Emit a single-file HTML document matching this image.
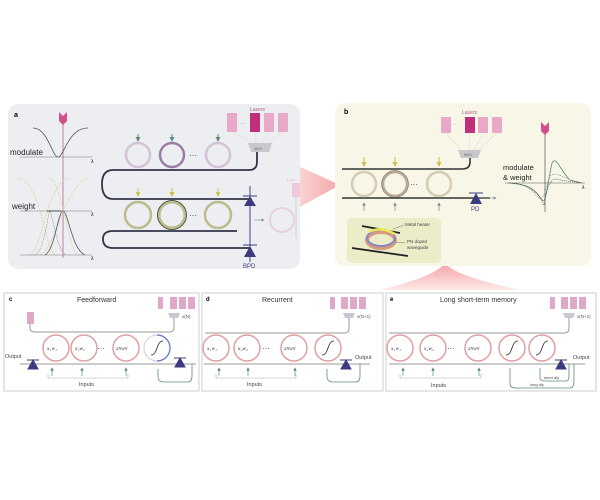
<!DOCTYPE html>
<html><head><meta charset="utf-8"><style>
body{margin:0;background:#fff;}
svg{display:block;font-family:"Liberation Sans",sans-serif;}
</style></head><body>
<svg width="600" height="500" viewBox="0 0 600 500" xmlns="http://www.w3.org/2000/svg">
<defs>
<linearGradient id="pk" x1="0" x2="1"><stop offset="0" stop-color="#fbe3e3"/><stop offset="1" stop-color="#f4a6a8"/></linearGradient>
<linearGradient id="pk2" x1="0" y1="0" x2="0" y2="1"><stop offset="0" stop-color="#f4a0a4"/><stop offset="1" stop-color="#fde8e8"/></linearGradient>
<marker id="ag" markerWidth="5" markerHeight="5" refX="4" refY="2.5" orient="auto"><path d="M0,0L5,2.5L0,5z" fill="#5c8a82"/></marker>
<marker id="ay" markerWidth="5" markerHeight="5" refX="4" refY="2.5" orient="auto"><path d="M0,0L5,2.5L0,5z" fill="#c9c24a"/></marker>
<marker id="agr" markerWidth="5" markerHeight="5" refX="4" refY="2.5" orient="auto"><path d="M0,0L5,2.5L0,5z" fill="#7a8a90"/></marker>
</defs>

<!-- pink connector arrows -->
<path d="M285,160 L340,185 L285,215 Z" fill="url(#pk)"/>
<path d="M380,290 Q440,275 445,262 Q450,275 520,290 Z" fill="url(#pk2)"/>

<!-- Panel a -->
<rect x="8" y="104" width="292" height="165" rx="10" fill="#eceef1"/>
<text x="14" y="117" font-size="7" font-weight="bold">a</text>
<line x1="63" y1="118" x2="63" y2="258" stroke="#d4799f" stroke-width="1"/>
<path d="M59,112 L63,116 L67,112 L67,121 L63,125 L59,121Z" fill="#d4508a"/>
<path d="M33,128 C48,128 52,157 58,157 C64,157 68,128 88,128" fill="none" stroke="#555" stroke-width="0.8"/>
<line x1="20" y1="157" x2="92" y2="157" stroke="#777" stroke-width="0.6"/>
<text x="91" y="163" font-size="5">λ</text>
<text x="10" y="155" font-size="8" fill="#222">modulate</text>
<path d="M18,178 C40,178 45,250 55,255 M30,255 C42,250 48,178 70,178 M48,178 C62,178 68,252 78,255 M40,255 C55,250 62,190 88,178" fill="none" stroke="#d9d6a8" stroke-width="0.8" stroke-dasharray="2,1"/>
<path d="M45,255 C55,250 58,211 63,211 C68,211 72,250 85,255" fill="none" stroke="#555" stroke-width="0.8"/>
<path d="M35,255 C45,250 48,211 50,211 C52,211 56,250 66,255" fill="none" stroke="#8a8a8a" stroke-width="0.6" stroke-dasharray="1.5,1"/>
<line x1="20" y1="211" x2="92" y2="211" stroke="#777" stroke-width="0.6"/>
<line x1="20" y1="255" x2="92" y2="255" stroke="#777" stroke-width="0.6"/>
<line x1="47" y1="211" x2="61" y2="211" stroke="#333" stroke-width="0.8"/>
<text x="91" y="216" font-size="5">λ</text><text x="91" y="260" font-size="5">λ</text>
<text x="12" y="209" font-size="8" fill="#222">weight</text>

<!-- lasers a -->
<text x="250" y="111" font-size="5" fill="#b06080">Lasers</text>
<rect x="227" y="113" width="10" height="19" fill="#e8a8c8"/>
<text x="240" y="125" font-size="6" fill="#888">···</text>
<rect x="250" y="113" width="10" height="19" fill="#c0307a"/>
<rect x="264" y="113" width="10" height="19" fill="#e8a8c8"/>
<rect x="278" y="113" width="10" height="19" fill="#e8a8c8"/>
<path d="M232,132 L252,143 M255,132 L256,143 M269,132 L262,143 M283,132 L268,143" stroke="#ddd" stroke-width="0.6"/>
<path d="M248,143 L272,143 L269,152 L251,152Z" fill="#c8c8cc"/>
<text x="254" y="150" font-size="3.5" fill="#666">MUX</text>
<!-- waveguides a -->
<path d="M257,152 L257,162 Q257,170 249,170 L113,170 Q102,170 102,184 Q102,199 113,199 L250,199" fill="none" stroke="#333348" stroke-width="1.8"/>
<path d="M237,231 L113,231 Q103,231 103,239 Q103,248 113,248 L250,248" fill="none" stroke="#333348" stroke-width="1.8"/>
<!-- rings row1 -->
<circle cx="138" cy="155" r="12" fill="none" stroke="#d2c3d6" stroke-width="2.5"/>
<circle cx="172" cy="155" r="12" fill="none" stroke="#9a7fa2" stroke-width="2.5"/>
<circle cx="218" cy="155" r="12" fill="none" stroke="#d2c3d6" stroke-width="2.5"/>
<text x="189" y="158" font-size="8" fill="#333">···</text>
<line x1="138" y1="134" x2="138" y2="141" stroke="#5c8a82" marker-end="url(#ag)"/>
<line x1="172" y1="134" x2="172" y2="141" stroke="#5c8a82" marker-end="url(#ag)"/>
<line x1="218" y1="134" x2="218" y2="141" stroke="#5c8a82" marker-end="url(#ag)"/>
<!-- rings row2 -->
<circle cx="138" cy="215" r="13" fill="none" stroke="#bcbb8a" stroke-width="2.5"/>
<circle cx="172" cy="215" r="13" fill="none" stroke="#bcbb8a" stroke-width="3"/>
<circle cx="172" cy="215" r="14.5" fill="none" stroke="#333" stroke-width="0.8"/>
<circle cx="218" cy="215" r="13" fill="none" stroke="#bcbb8a" stroke-width="2.5"/>
<text x="189" y="218" font-size="8" fill="#333">···</text>
<line x1="138" y1="188" x2="138" y2="196" stroke="#c9c24a" marker-end="url(#ay)"/>
<line x1="172" y1="188" x2="172" y2="196" stroke="#c9c24a" marker-end="url(#ay)"/>
<line x1="218" y1="188" x2="218" y2="196" stroke="#c9c24a" marker-end="url(#ay)"/>
<!-- BPD -->
<line x1="250" y1="186" x2="250" y2="262" stroke="#4a3f8a" stroke-width="1"/>
<path d="M244,206 L256,206 L250,196Z" fill="#3e3a82"/><line x1="243" y1="196" x2="257" y2="196" stroke="#3e3a82"/>
<path d="M244,161 M244,257 L256,257 L250,246Z" fill="#3e3a82"/><line x1="243" y1="245" x2="257" y2="245" stroke="#3e3a82"/>
<text x="243" y="268" font-size="6" fill="#3e3a82">BPD</text>
<line x1="254" y1="220" x2="264" y2="220" stroke="#7a8a90" stroke-width="0.6" marker-end="url(#agr)"/>
<circle cx="282" cy="220" r="12" fill="none" stroke="#e6d2dc" stroke-width="2"/>
<rect x="292" y="183" width="8" height="14" fill="#efc8da"/>
<text x="287" y="181" font-size="4" fill="#e4b8cc">Lase</text>
<path d="M296,197 L296,238" stroke="#d8c4cc" stroke-width="0.8"/>

<!-- Panel b -->
<rect x="335" y="103" width="256" height="163" rx="10" fill="#f8f6e6"/>
<text x="344" y="114" font-size="7" font-weight="bold">b</text>
<text x="462" y="114" font-size="5" fill="#b06080">Lasers</text>
<rect x="441" y="117" width="10" height="16" fill="#e8a8c8"/>
<text x="453" y="126" font-size="5" fill="#888">···</text>
<rect x="465" y="117" width="10" height="16" fill="#c0307a"/>
<rect x="478" y="117" width="10" height="16" fill="#e8a8c8"/>
<rect x="492" y="117" width="10" height="16" fill="#e8a8c8"/>
<path d="M446,133 L461,150 M470,133 L469,150 M483,133 L474,150 M497,133 L478,150" stroke="#ddd" stroke-width="0.6"/>
<path d="M458,150 L481,150 L478,158 L461,158Z" fill="#c8c8cc"/>
<text x="464" y="156" font-size="3.5" fill="#666">MUX</text>
<path d="M342,169 L462,169 Q470,169 470,162 L470,158" fill="none" stroke="#333" stroke-width="1.6"/>
<line x1="342" y1="198" x2="490" y2="198" stroke="#333" stroke-width="1.6"/>
<line x1="478" y1="198" x2="496" y2="198" stroke="#7a8a90" stroke-width="0.6" marker-end="url(#agr)"/>
<circle cx="364" cy="184" r="12" fill="none" stroke="#d5cbb2" stroke-width="2.5"/>
<circle cx="395" cy="184" r="12" fill="none" stroke="#b9a890" stroke-width="2.5"/>
<circle cx="395" cy="184" r="13.5" fill="none" stroke="#555" stroke-width="0.5"/>
<circle cx="439" cy="184" r="12" fill="none" stroke="#d5cbb2" stroke-width="2.5"/>
<text x="410" y="187" font-size="8" fill="#333">···</text>
<line x1="364" y1="157" x2="364" y2="166" stroke="#c9c24a" marker-end="url(#ay)"/>
<line x1="395" y1="157" x2="395" y2="166" stroke="#c9c24a" marker-end="url(#ay)"/>
<line x1="439" y1="157" x2="439" y2="166" stroke="#c9c24a" marker-end="url(#ay)"/>
<line x1="364" y1="211" x2="364" y2="203" stroke="#7a8a90" stroke-width="0.7" marker-end="url(#agr)"/>
<line x1="395" y1="211" x2="395" y2="203" stroke="#7a8a90" stroke-width="0.7" marker-end="url(#agr)"/>
<line x1="439" y1="211" x2="439" y2="203" stroke="#7a8a90" stroke-width="0.7" marker-end="url(#agr)"/>
<path d="M470,204 L482,204 L476,193Z" fill="#3e3a82"/><line x1="469" y1="193" x2="483" y2="193" stroke="#3e3a82"/>
<text x="471" y="211" font-size="6" fill="#3e3a82">PD</text>
<!-- inset -->
<rect x="347" y="218" width="94" height="45" rx="5" fill="#eaedc8"/>
<line x1="362" y1="226" x2="400" y2="233" stroke="#222" stroke-width="1.8"/>
<line x1="352" y1="248" x2="408" y2="256" stroke="#222" stroke-width="1.8"/>
<ellipse cx="381" cy="240" rx="14" ry="8" fill="none" stroke="#d79a80" stroke-width="4"/>
<ellipse cx="381" cy="238" rx="14" ry="8" fill="none" stroke="#8c86c0" stroke-width="2"/>
<path d="M369,232 Q381,226 395,234" fill="none" stroke="#f0e850" stroke-width="2.5"/>
<line x1="393" y1="229" x2="404" y2="225" stroke="#555" stroke-width="0.4"/>
<text x="405" y="226" font-size="4.5" fill="#444">Metal heater</text>
<line x1="395" y1="242" x2="405" y2="243" stroke="#555" stroke-width="0.4"/>
<text x="407" y="243" font-size="4.5" fill="#444">PN doped</text>
<text x="407" y="249" font-size="4.5" fill="#444">waveguide</text>
<!-- mod & weight plot -->
<line x1="545" y1="128" x2="545" y2="212" stroke="#555" stroke-width="0.7"/>
<path d="M541,122 L545,126 L549,122 L549,131 L545,135 L541,131Z" fill="#d4508a"/>
<line x1="505" y1="183" x2="585" y2="183" stroke="#555" stroke-width="0.6"/>
<text x="582" y="189" font-size="5">λ</text>
<text x="503" y="170" font-size="7.5" fill="#222">modulate</text>
<text x="503" y="180" font-size="7.5" fill="#222">&amp; weight</text>
<path d="M508,183 C530,184 535,190 542,200 C546,206 548,180 552,163 C556,155 560,170 570,180 L582,183" fill="none" stroke="#5c8a82" stroke-width="0.8"/>
<path d="M508,183 C525,184 530,188 538,197 C544,204 546,185 550,176 C556,170 565,180 582,183" fill="none" stroke="#888" stroke-width="0.6" stroke-dasharray="1.5,1"/>
<path d="M510,183 C530,184 538,192 544,205 C547,190 549,175 560,180 L582,183" fill="none" stroke="#333" stroke-width="0.6" stroke-dasharray="1,1"/>

<!-- bottom panels -->
<g font-size="7">
<rect x="4" y="293" width="195" height="98" fill="#fff" stroke="#ddd" stroke-width="1.5"/>
<rect x="202" y="293" width="181" height="98" fill="#fff" stroke="#ddd" stroke-width="1.5"/>
<rect x="386" y="293" width="210" height="98" fill="#fff" stroke="#ddd" stroke-width="1.5"/>
<text x="9" y="301" font-weight="bold" font-size="6">c</text>
<text x="77" y="302" fill="#333">Feedforward</text>
<text x="206" y="301" font-weight="bold" font-size="6">d</text>
<text x="262" y="302" fill="#333">Recurrent</text>
<text x="390" y="301" font-weight="bold" font-size="6">e</text>
<text x="440" y="302" fill="#333">Long short-term memory</text>
</g>
<g fill="#e0a8c8">
<rect x="158" y="297" width="5" height="12"/><rect x="170" y="297" width="7" height="12"/><rect x="179" y="297" width="7" height="12"/><rect x="188" y="297" width="7" height="12"/>
<rect x="330" y="297" width="5" height="12"/><rect x="341" y="297" width="7" height="12"/><rect x="350" y="297" width="7" height="12"/><rect x="359" y="297" width="7" height="12"/>
<rect x="550" y="297" width="5" height="12"/><rect x="561" y="297" width="7" height="12"/><rect x="570" y="297" width="7" height="12"/><rect x="579" y="297" width="7" height="12"/>
<rect x="27" y="312" width="7" height="12"/>
</g>
<g fill="#c8c8d0">
<path d="M168,313 L180,313 L178,318 L170,318Z"/><path d="M343,313 L355,313 L353,318 L345,318Z"/><path d="M563,313 L575,313 L573,318 L565,318Z"/>
</g>
<g font-size="4.5" fill="#555"><text x="182" y="318">x(N)</text><text x="357" y="318">x(N+1)</text><text x="577" y="318">x(N+2)</text></g>
<g fill="none" stroke="#999" stroke-width="1">
<path d="M30,324 L30,328 Q30,332 35,332 L170,332 Q174,332 174,327 L174,318"/>
<path d="M205,333 L345,333 Q349,333 349,328 L349,318"/>
<path d="M389,333 L565,333 Q569,333 569,328 L569,318"/>
<line x1="20" y1="364" x2="196" y2="364"/>
<line x1="204" y1="364" x2="370" y2="364"/>
<line x1="389" y1="364" x2="585" y2="364"/>
</g>
<g fill="none" stroke="#e0a0a0" stroke-width="1.5">
<circle cx="56" cy="348" r="13"/><circle cx="84" cy="348" r="13"/><circle cx="126" cy="348" r="13"/>
<circle cx="216" cy="348" r="13"/><circle cx="247" cy="348" r="13"/><circle cx="294" cy="348" r="13"/><circle cx="328" cy="348" r="13"/>
<circle cx="400" cy="348" r="13"/><circle cx="433" cy="348" r="13"/><circle cx="478" cy="348" r="13"/><circle cx="512" cy="348" r="13"/><circle cx="542" cy="348" r="13"/>
</g>
<circle cx="157" cy="348" r="13" fill="none" stroke="#ddd" stroke-width="1.5"/>
<path d="M157,335 A13,13 0 0 1 157,361" fill="none" stroke="#5a7ac8" stroke-width="1.2"/>
<g fill="none" stroke="#222" stroke-width="0.8">
<path d="M151,355 C158,355 156,341 163,341"/><path d="M322,355 C329,355 327,341 334,341"/><path d="M506,355 C513,355 511,341 518,341"/><path d="M536,355 C543,355 541,341 548,341"/>
</g>
<g font-family="Liberation Serif" font-style="italic" font-size="5.5" fill="#333">
<text x="47" y="350">x₁w₁</text><text x="75" y="350">x₂w₂</text><text x="116" y="350">x<tspan font-size="4">N</tspan>w<tspan font-size="4">N</tspan></text>
<text x="207" y="350">x₁w₁</text><text x="238" y="350">x₂w₂</text><text x="284" y="350">x<tspan font-size="4">N</tspan>w<tspan font-size="4">N</tspan></text>
<text x="391" y="350">x₁w₁</text><text x="424" y="350">x₂w₂</text><text x="468" y="350">x<tspan font-size="4">N</tspan>w<tspan font-size="4">N</tspan></text>
</g>
<g font-size="8" fill="#333"><text x="97" y="351">···</text><text x="262" y="351">···</text><text x="447" y="351">···</text></g>
<!-- PDs -->
<g fill="#3e3a82" stroke="#3e3a82">
<path d="M28,369 L38,369 L33,360Z"/><line x1="27" y1="360" x2="39" y2="360"/>
<path d="M175,367 L185,367 L180,358Z"/><line x1="174" y1="358" x2="186" y2="358"/>
<path d="M341,369 L351,369 L346,360Z"/><line x1="340" y1="360" x2="352" y2="360"/>
<path d="M556,369 L566,369 L561,360Z"/><line x1="555" y1="360" x2="567" y2="360"/>
</g>
<g font-size="5.5" fill="#444"><text x="5" y="358">Output</text><text x="355" y="359">Output</text><text x="573" y="359">Output</text></g>
<!-- input arrows -->
<g stroke="#5c8a82" stroke-width="0.7">
<line x1="52" y1="376" x2="52" y2="368" marker-end="url(#ag)"/><line x1="82" y1="376" x2="82" y2="368" marker-end="url(#ag)"/><line x1="126" y1="376" x2="126" y2="368" marker-end="url(#ag)"/>
<line x1="219" y1="376" x2="219" y2="368" marker-end="url(#ag)"/><line x1="248" y1="376" x2="248" y2="368" marker-end="url(#ag)"/><line x1="295" y1="376" x2="295" y2="368" marker-end="url(#ag)"/>
<line x1="403" y1="376" x2="403" y2="368" marker-end="url(#ag)"/><line x1="433" y1="376" x2="433" y2="368" marker-end="url(#ag)"/><line x1="479" y1="376" x2="479" y2="368" marker-end="url(#ag)"/>
</g>
<g fill="none" stroke="#5c8a82" stroke-width="0.8">
<path d="M158,376 L158,369 M158,376 Q158,382 164,382 L188,382 Q192,382 192,376 L192,364"/>
<path d="M327,376 L327,369 M327,376 Q327,382 333,382 L356,382 Q360,382 360,376 L360,364"/>
<path d="M510,368 L510,384 Q510,388 516,388 L570,388 Q574,388 574,380 L574,364"/>
<path d="M540,368 L540,378 Q540,381 545,381 L566,381 Q569,381 569,376 L569,364"/>
</g>
<g fill="none" stroke="#aaa" stroke-width="0.6">
<path d="M48,374 L48,378 L128,378 L128,374"/><path d="M216,374 L216,378 L296,378 L296,374"/><path d="M400,374 L400,378 L481,378 L481,374"/>
</g>
<g font-size="5.5" fill="#444"><text x="79" y="386">Inputs</text><text x="247" y="386">Inputs</text><text x="431" y="387">Inputs</text></g>
<g font-size="4" fill="#444"><text x="544" y="379">short dly</text><text x="530" y="386">long dly</text></g>
</svg>
</body></html>
